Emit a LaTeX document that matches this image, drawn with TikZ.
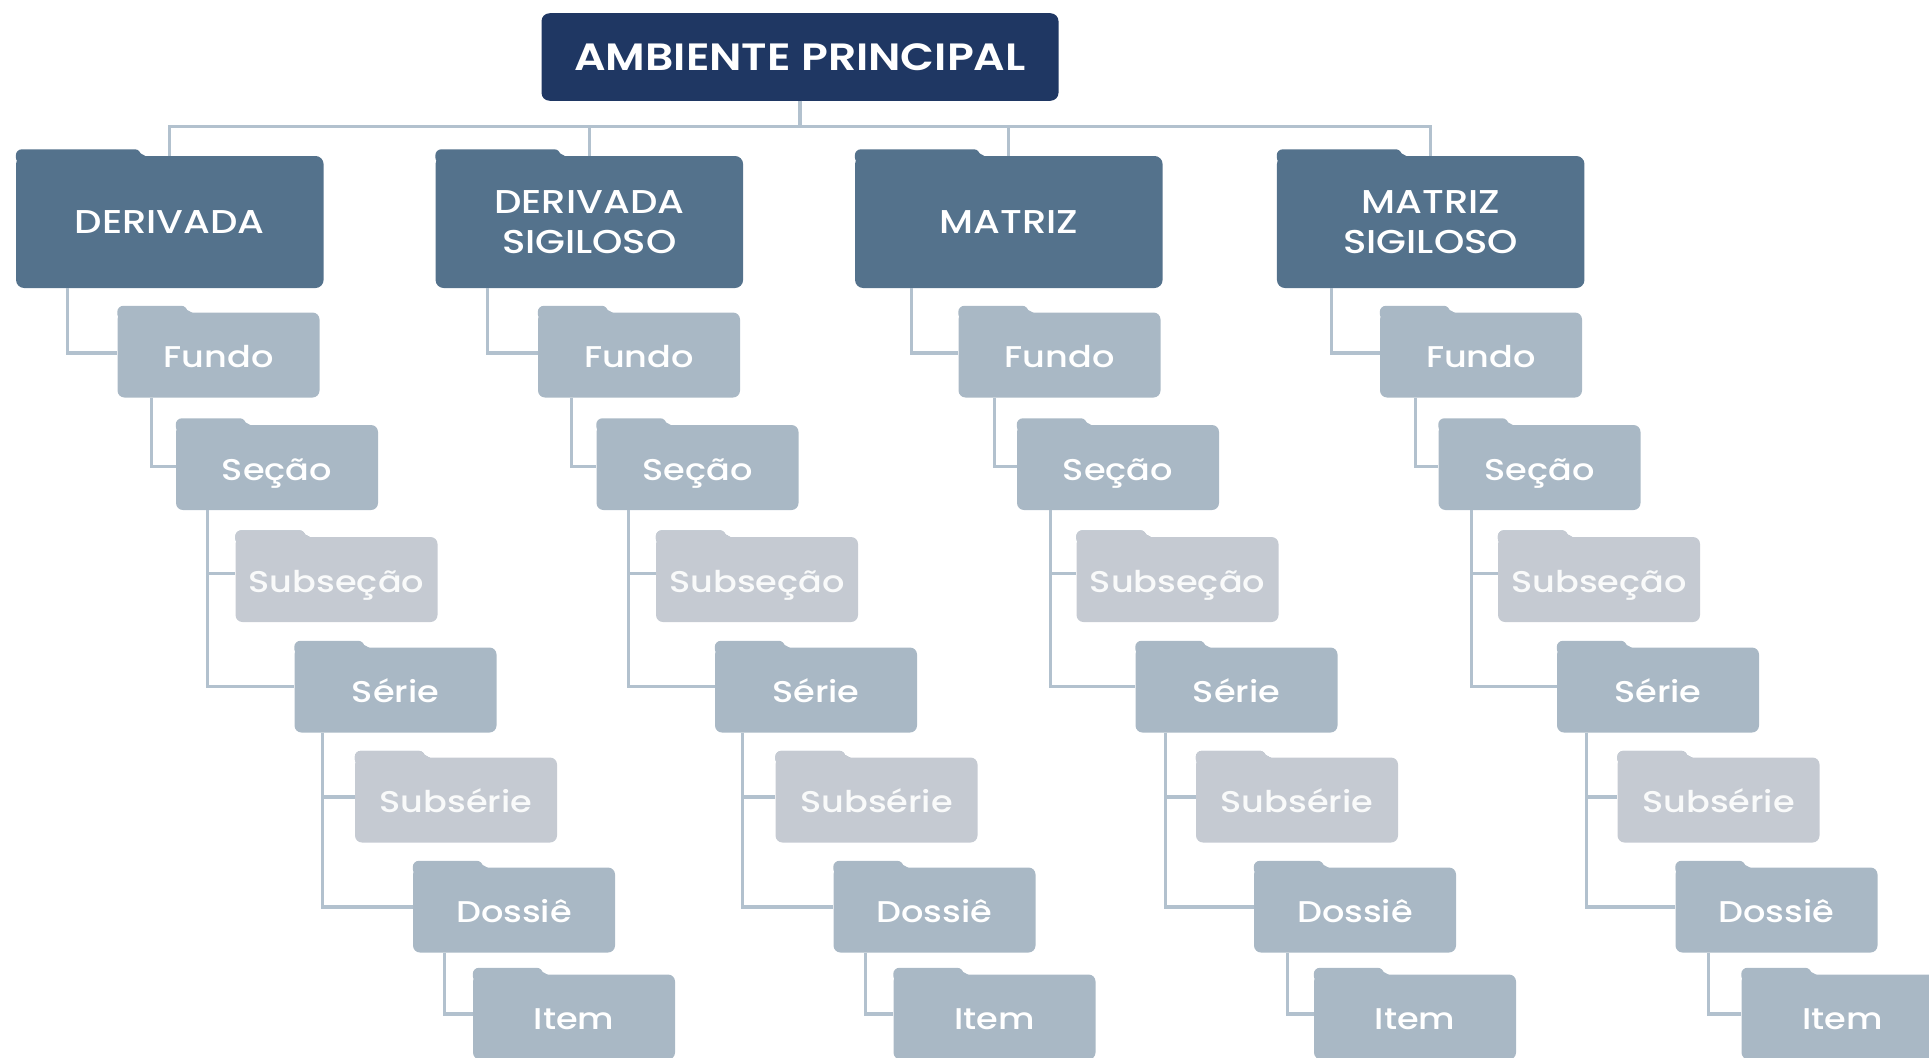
\documentclass[tikz,border=0pt]{standalone}
\usepackage{fontspec}
\setmainfont{Poppins}
\newfontfamily\medfont[FakeStretch=1.17]{Poppins Medium}
\newfontfamily\semifont[FakeStretch=1.16]{Poppins SemiBold}
\usepackage{tikz}

\definecolor{rootblue}{HTML}{1F3763}
\definecolor{mainblue}{HTML}{54728C}
\definecolor{midblue}{HTML}{A9B8C5}
\definecolor{lightgray}{HTML}{C5CAD2}
\definecolor{linkblue}{HTML}{B2C1CE}

% the levels below one main folder, #2 moves the lines a little, #3 the last folder
\newcommand{\foldertree}[3]{
    \node[level](#1fundo) at (218.5,355){Fundo};
    \node[level](#1secao) at (277,467.5){Seção};
    \node[sublevel](#1subsecao) at (336.5,579.5){Subseção};
    \node[level](#1serie) at (395.5,690){Série};
    \node[sublevel](#1subserie) at (456,800){Subsérie};
    \node[level](#1dossie) at (514,910){Dossiê};
    \node[level](#1item) at (574+#3,1017){Item};

    \draw[link] ([xshift=33pt+#2]#1fundo.south west) |- ([yshift=1pt]#1secao.west);
    \draw[link] ([xshift=31pt+#2]#1secao.south west) |- ([yshift=6pt]#1subsecao.west);
    \draw[link] ([xshift=31pt+#2]#1secao.south west) |- ([yshift=3.5pt]#1serie.west);
    \draw[link] ([xshift=27pt+#2]#1serie.south west) |- ([yshift=3pt]#1subserie.west);
    \draw[link] ([xshift=27pt+#2]#1serie.south west) |- ([yshift=3pt]#1dossie.west);
    \draw[link] ([xshift=31pt+#2]#1dossie.south west) |- ([yshift=3pt]#1item.west);
}

\begin{document}
\begin{tikzpicture}[x=1pt,y=-1pt]
    \tikzset{tabbed/.style 2 args={append after command={\pgfextra{
        \fill[#1,rounded corners=6pt] ([yshift=-7.5pt]\tikzlastnode.north west) -- ++(0pt,14pt)
            -- ++(#2-6pt,0pt) -- ++(0pt,-14pt) -- cycle;
        \fill[#1] ([xshift=#2-11pt,yshift=-1pt]\tikzlastnode.north west) -- ++(11pt,0pt) -- ++(-11pt,6pt) -- cycle;
    }}}}
    \tikzstyle{root}=[fill=rootblue,text=white,rounded corners=8pt,minimum width=517pt,minimum height=87.5pt,inner sep=0pt,font=\fontsize{38}{44}\semifont]
    \tikzstyle{main}=[fill=mainblue,text=white,rounded corners=8pt,minimum width=307.5pt,minimum height=132pt,inner sep=0pt,align=center,font=\fontsize{33}{40}\medfont,tabbed={mainblue}{131pt}]
    \tikzstyle{level}=[fill=midblue,text=white,rounded corners=7pt,minimum width=202pt,minimum height=85pt,inner sep=0pt,text height=25pt,text depth=0pt,font=\fontsize{30}{36}\medfont,tabbed={midblue}{76pt}]
    \tikzstyle{sublevel}=[level,fill=lightgray,text=white!90!lightgray,tabbed={lightgray}{76pt}]
    \tikzstyle{link}=[draw=linkblue,line width=3.2pt]

    \path[use as bounding box,clip] (0,0) rectangle (1929,1057);

    \node[root](ambiente) at (800,57){AMBIENTE PRINCIPAL};
    \node[main](derivada) at (169.8,222){DERIVADA};
    \node[main](derivadasig) at (589.3,222){DERIVADA\\SIGILOSO};
    \node[main](matriz) at (1008.8,222){MATRIZ};
    \node[main](matrizsig) at (1430.7,222){MATRIZ\\SIGILOSO};

    \draw[link] (ambiente.south) |- ([yshift=29pt]derivada.north) -- (derivada.north);
    \draw[link] (ambiente.south) |- ([yshift=29pt]derivadasig.north) -- (derivadasig.north);
    \draw[link] (ambiente.south) |- ([yshift=29pt]matriz.north) -- (matriz.north);
    \draw[link] (ambiente.south) |- ([yshift=29pt]matrizsig.north) -- (matrizsig.north);

    \begin{scope}[shift={(0pt,0pt)}]
    \foldertree{1}{1pt}{0}
    \end{scope}

    \begin{scope}[shift={(420.5pt,0pt)}]
    \foldertree{2}{1pt}{0}
    \end{scope}

    \begin{scope}[shift={(841pt,0pt)}]
    \foldertree{3}{3pt}{0}
    \end{scope}

    \begin{scope}[shift={(1262.5pt,0pt)}]
    \foldertree{4}{2.5pt}{6}
    \end{scope}

    \draw[link] ([xshift=51.7pt]derivada.south west) |- ([yshift=2pt]1fundo.west);
    \draw[link] ([xshift=52.5pt]derivadasig.south west) |- ([yshift=2pt]2fundo.west);
    \draw[link] ([xshift=56.5pt]matriz.south west) |- ([yshift=2pt]3fundo.west);
    \draw[link] ([xshift=54.5pt]matrizsig.south west) |- ([yshift=2pt]4fundo.west);
\end{tikzpicture}
\end{document}
